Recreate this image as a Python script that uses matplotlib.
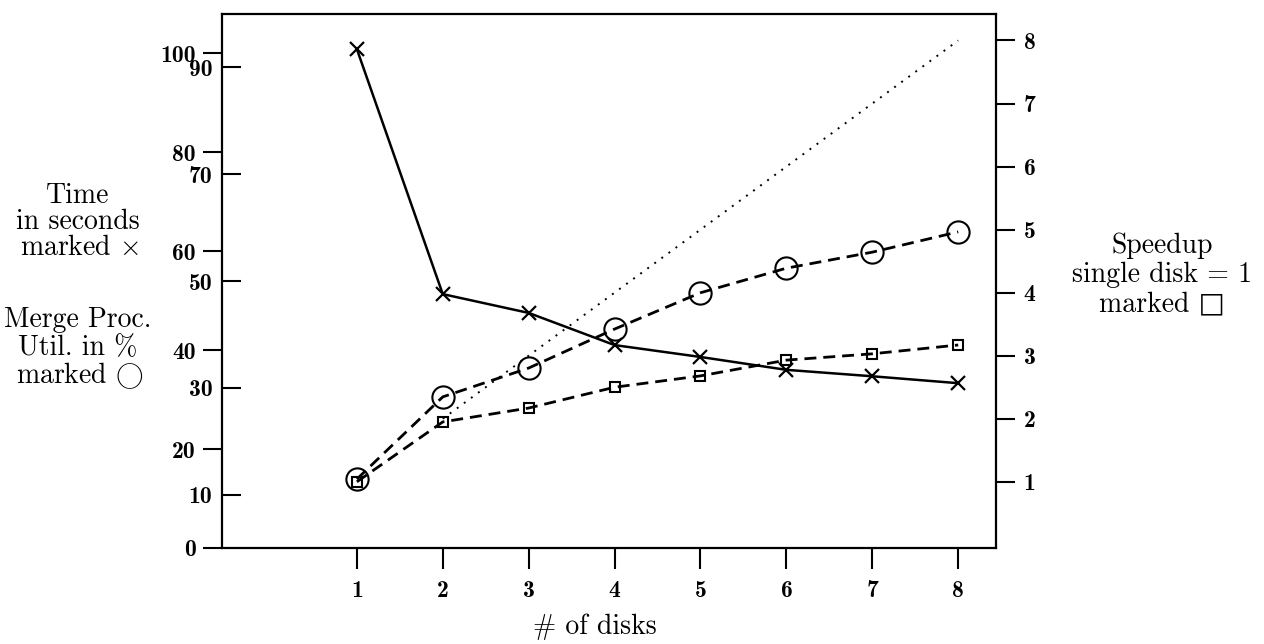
import matplotlib
matplotlib.use("Agg")
import matplotlib.pyplot as plt

plt.rcParams['font.family'] = ['cmr10', 'DejaVu Serif']
plt.rcParams['mathtext.fontset'] = 'cm'
plt.rcParams['axes.unicode_minus'] = False

# values
disks = [1, 2, 3, 4, 5, 6, 7, 8]
time_sec = [100.8, 51.3, 47.5, 41.0, 38.6, 36.0, 34.7, 33.3]
util_pct = [12.9, 28.3, 33.7, 41.0, 47.8, 52.4, 55.4, 59.2]
speedup = [1.0, 1.95, 2.17, 2.50, 2.68, 2.93, 3.03, 3.17]
ideal_x = [2, 8]
ideal_y = [2, 8]

time_ticks = [0, 20, 40, 60, 80, 100]
util_ticks = [10, 30, 50, 70, 90]
speed_ticks = [1, 2, 3, 4, 5, 6, 7, 8]

W, H = 1264, 644
fig = plt.figure(figsize=(W / 100, H / 100), dpi=100)
ax = fig.add_axes([222 / W, 1 - 548 / H, (996 - 222) / W, (548 - 14) / H])
ax_u = ax.twinx()
ax_s = ax.twinx()

bold = dict(family='cmb10', size=17)

# time axis (outer ticks on the left)
ax.set_xlim(-0.57, 8.44)
ax.set_ylim(0, 107.9)
ax.set_yticks(time_ticks)
ax.set_yticklabels([str(t) for t in time_ticks], **bold)
ax.set_xticks(disks)
ax.set_xticklabels([str(d) for d in disks], **bold)
ax.tick_params(axis='y', direction='out', length=14, width=1.5, pad=5)
ax.tick_params(axis='x', direction='out', length=15, width=1.5, pad=8)
for s in ax.spines.values():
    s.set_linewidth(1.6)

# utilisation axis (inner ticks on the left)
ax_u.set_ylim(0, 100)
ax_u.yaxis.set_ticks_position('left')
ax_u.yaxis.set_label_position('left')
ax_u.set_yticks(util_ticks)
ax_u.set_yticklabels([str(t) for t in util_ticks], **bold)
ax_u.tick_params(axis='y', direction='in', length=14, width=1.5, pad=7)
for s in ax_u.spines.values():
    s.set_visible(False)

# speedup axis (right)
ax_s.set_ylim(-0.05, 8.42)
ax_s.set_yticks(speed_ticks)
ax_s.set_yticklabels([str(t) for t in speed_ticks], **bold)
ax_s.tick_params(axis='y', direction='out', length=14, width=1.5, pad=6)
for s in ax_s.spines.values():
    s.set_visible(False)

dash = (0, (4.3, 2.5))
ax.plot(disks, time_sec, color='black', lw=1.8, marker='x', ms=10, mew=1.6)
ax_u.plot(disks, util_pct, color='black', lw=2.0, ls=dash,
          marker='o', ms=16, mfc='none', mec='black', mew=1.5)
ax_s.plot(disks, speedup, color='black', lw=2.0, ls=dash,
          marker='s', ms=6.5, mfc='none', mec='black', mew=1.5)
ax_s.plot(ideal_x, ideal_y, color='black', lw=1.4, ls=(0, (1, 3.5)))

fs = 20
def ftext(x, y, s, **kw):
    fig.text(x / W, 1 - y / H, s, ha='center', va='center', fontsize=fs, **kw)

ftext(78, 196, 'Time')
ftext(78, 222, 'in seconds')
ftext(80, 248, r'marked $\times$')
ftext(78, 320, 'Merge Proc.')
ftext(78, 348, 'Util. in %')
ftext(80, 376, r'marked $\bigcirc$')

ftext(1162, 246, 'Speedup')
ftext(1162, 275, 'single disk = 1')
ftext(1162, 304, 'marked \u25a1', family=['cmr10', 'DejaVu Sans'])

ftext(595, 627, '# of disks')

fig.savefig('out.png', dpi=100)
